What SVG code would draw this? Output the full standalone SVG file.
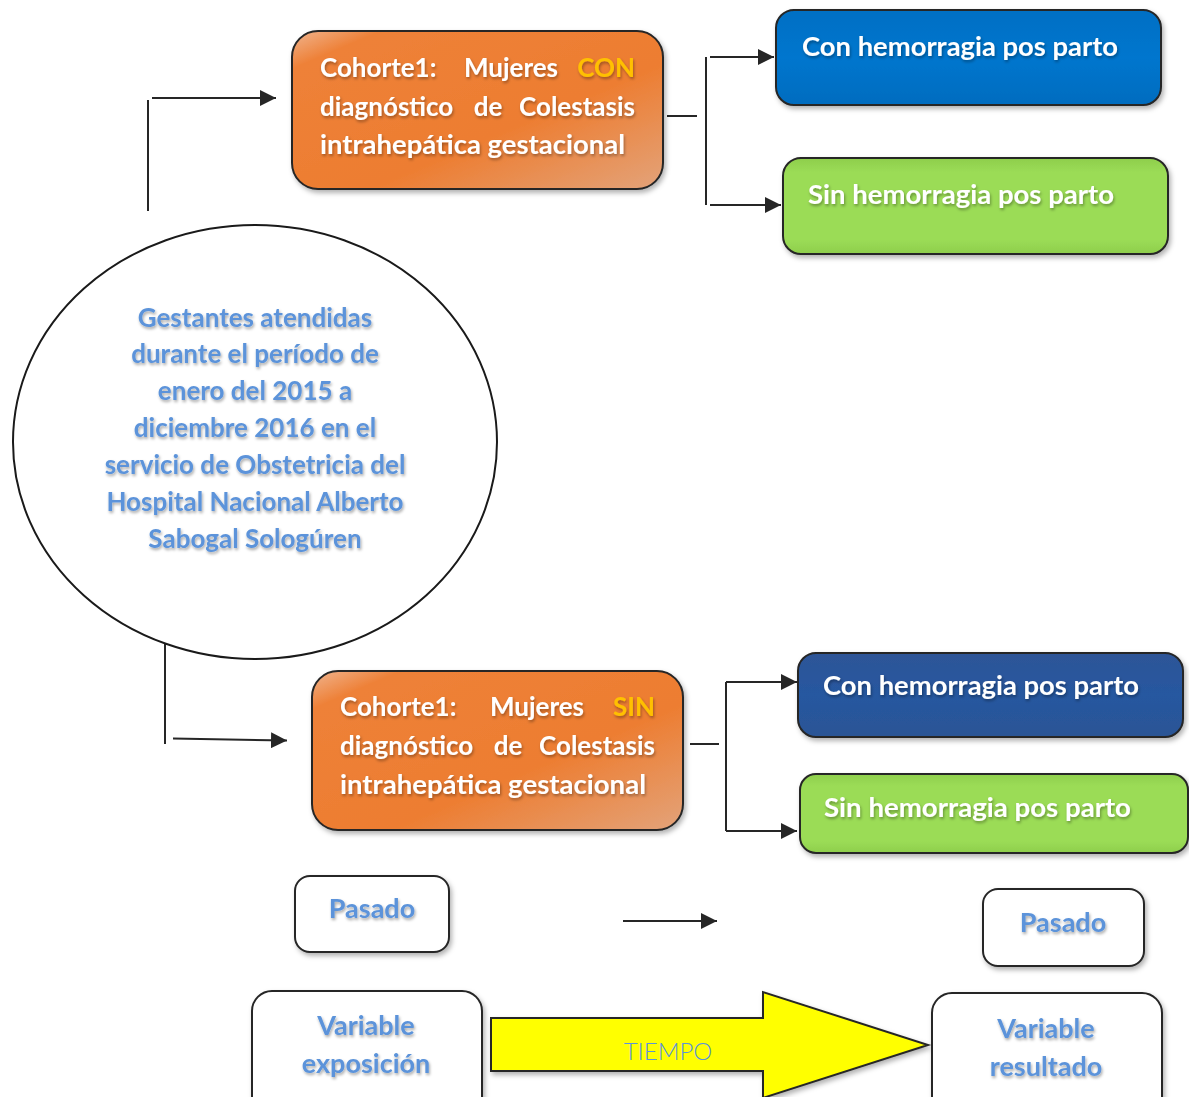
<svg xmlns="http://www.w3.org/2000/svg" width="1189" height="1097" viewBox="0 0 1189 1097">
<style>
.w{font-family:Lato,"Open Sans","Liberation Sans",sans-serif;font-weight:700;font-size:26px;fill:#ffffff}
.b{font-family:Lato,"Open Sans","Liberation Sans",sans-serif;font-weight:700;font-size:26px;fill:#5B93DA}
.bb{font-size:27px}
.y{fill:#FFC000}
.box{stroke:#262626;stroke-width:2}
.wb{fill:#ffffff;stroke:#262626;stroke-width:2}
.ln{stroke:#262626;stroke-width:2;fill:none}
.t{font-family:Lato,"Open Sans","Liberation Sans",sans-serif;font-weight:300;font-size:24px;fill:#5B93DA}
</style>
<defs>
<linearGradient id="og" x1="0" y1="0" x2="1" y2="1">
<stop offset="0" stop-color="#F0B590"/>
<stop offset="0.12" stop-color="#EE8138"/>
<stop offset="0.6" stop-color="#ED7D31"/>
<stop offset="1" stop-color="#E3A37A"/>
</linearGradient>
<linearGradient id="bg1" x1="0" y1="0" x2="0" y2="1">
<stop offset="0" stop-color="#006FC4"/>
<stop offset="0.5" stop-color="#0076CE"/>
<stop offset="1" stop-color="#006CBF"/>
</linearGradient>
<linearGradient id="bg2" x1="0" y1="0" x2="0" y2="1">
<stop offset="0" stop-color="#2E5597"/>
<stop offset="0.5" stop-color="#2758A0"/>
<stop offset="1" stop-color="#2A5495"/>
</linearGradient>
<linearGradient id="gg" x1="0" y1="0" x2="0" y2="1">
<stop offset="0" stop-color="#8ECE4C"/>
<stop offset="0.15" stop-color="#9BDC56"/>
<stop offset="0.85" stop-color="#9BDC56"/>
<stop offset="1" stop-color="#8ECE4C"/>
</linearGradient>
<filter id="sh" x="-10%" y="-10%" width="130%" height="140%">
<feDropShadow dx="2" dy="3" stdDeviation="2.5" flood-color="#000" flood-opacity="0.3"/>
</filter>
<filter id="ts" x="-10%" y="-30%" width="120%" height="170%">
<feDropShadow dx="1" dy="2" stdDeviation="1.5" flood-color="#000" flood-opacity="0.35"/>
</filter>
<marker id="ah2" viewBox="0 0 10 10" refX="10" refY="5" markerWidth="16" markerHeight="16" markerUnits="userSpaceOnUse" orient="auto">
<path d="M0,0 L10,5 L0,10 z" fill="#262626"/>
</marker>
</defs>
<rect width="1189" height="1097" fill="#ffffff"/>

<g id="connectors">
<path class="ln" d="M148,211 V100"/>
<path class="ln" d="M152,98 H276" marker-end="url(#ah2)"/>
<path class="ln" d="M667,116 H697"/>
<path class="ln" d="M706,57 V205"/>
<path class="ln" d="M710,57 H774" marker-end="url(#ah2)"/>
<path class="ln" d="M710,205 H781" marker-end="url(#ah2)"/>
<path class="ln" d="M165,632 V744"/>
<path class="ln" d="M173,738.5 L287,740.5" marker-end="url(#ah2)"/>
<path class="ln" d="M690,744 H719"/>
<path class="ln" d="M726,682 V831"/>
<path class="ln" d="M726,682 H797" marker-end="url(#ah2)"/>
<path class="ln" d="M726,831 H797" marker-end="url(#ah2)"/>
<path class="ln" d="M623,921 H717" marker-end="url(#ah2)"/>
</g>

<g id="poblacion">
<ellipse cx="255" cy="442" rx="242" ry="217" fill="#ffffff" stroke="#1a1a1a" stroke-width="2"/>
<g class="b" text-anchor="middle" filter="url(#ts)">
<text x="255" y="327">Gestantes atendidas</text>
<text x="255" y="363">durante el período de</text>
<text x="255" y="400">enero del 2015 a</text>
<text x="255" y="437">diciembre 2016 en el</text>
<text x="255" y="474">servicio de Obstetricia del</text>
<text x="255" y="511">Hospital Nacional Alberto</text>
<text x="255" y="548">Sabogal Sologúren</text>
</g>
</g>

<g id="cohorte-con">
<rect class="box" x="292" y="31" width="371" height="158" rx="26" fill="url(#og)" filter="url(#sh)"/>
<g class="w" filter="url(#ts)">
<text x="320" y="77">Cohorte1:</text>
<text x="511" y="77" text-anchor="middle">Mujeres</text>
<text x="635" y="77" text-anchor="end" class="w y">CON</text>
<text x="320" y="116">diagnóstico</text>
<text x="488" y="116" text-anchor="middle">de</text>
<text x="635" y="116" text-anchor="end">Colestasis</text>
<text x="320" y="154" textLength="305" lengthAdjust="spacingAndGlyphs">intrahepática gestacional</text>
</g>
</g>

<g id="con-hpp-1">
<rect class="box" x="776" y="10" width="385" height="95" rx="18" fill="url(#bg1)" filter="url(#sh)"/>
<text class="w" x="802" y="56" textLength="316" lengthAdjust="spacingAndGlyphs" filter="url(#ts)">Con hemorragia pos parto</text>
</g>

<g id="sin-hpp-1">
<rect class="box" x="783" y="158" width="385" height="96" rx="18" fill="url(#gg)" filter="url(#sh)"/>
<text class="w" x="808" y="204" textLength="306" lengthAdjust="spacingAndGlyphs" filter="url(#ts)">Sin hemorragia pos parto</text>
</g>

<g id="cohorte-sin">
<rect class="box" x="312" y="671" width="371" height="159" rx="26" fill="url(#og)" filter="url(#sh)"/>
<g class="w" filter="url(#ts)">
<text x="340" y="716">Cohorte1:</text>
<text x="537" y="716" text-anchor="middle">Mujeres</text>
<text x="655" y="716" text-anchor="end" class="w y">SIN</text>
<text x="340" y="755">diagnóstico</text>
<text x="508" y="755" text-anchor="middle">de</text>
<text x="655" y="755" text-anchor="end">Colestasis</text>
<text x="340" y="794" textLength="306" lengthAdjust="spacingAndGlyphs">intrahepática gestacional</text>
</g>
</g>

<g id="con-hpp-2">
<rect class="box" x="798" y="653" width="385" height="84" rx="18" fill="url(#bg2)" filter="url(#sh)"/>
<text class="w" x="823" y="695" textLength="316" lengthAdjust="spacingAndGlyphs" filter="url(#ts)">Con hemorragia pos parto</text>
</g>

<g id="sin-hpp-2">
<rect class="box" x="800" y="774" width="388" height="79" rx="16" fill="url(#gg)" filter="url(#sh)"/>
<text class="w" x="824" y="817" textLength="307" lengthAdjust="spacingAndGlyphs" filter="url(#ts)">Sin hemorragia pos parto</text>
</g>

<g id="pasado-1">
<rect class="wb" x="295" y="876" width="154" height="76" rx="15" filter="url(#sh)"/>
<text class="b bb" x="372" y="918" text-anchor="middle" filter="url(#ts)">Pasado</text>
</g>

<g id="pasado-2">
<rect class="wb" x="983" y="889" width="161" height="77" rx="15" filter="url(#sh)"/>
<text class="b bb" x="1063" y="932" text-anchor="middle" filter="url(#ts)">Pasado</text>
</g>

<g id="variable-exposicion">
<rect class="wb" x="252" y="991" width="230" height="130" rx="20" filter="url(#sh)"/>
<g class="b bb" text-anchor="middle" filter="url(#ts)">
<text x="366" y="1035">Variable</text>
<text x="366" y="1073">exposición</text>
</g>
</g>

<g id="tiempo">
<path d="M491,1018 H763 V992 L928,1045 L763,1098 V1071 H491 Z" fill="#FFFF00" stroke="#262626" stroke-width="2" stroke-linejoin="miter" filter="url(#sh)"/>
<text class="t" x="668" y="1060" text-anchor="middle">TIEMPO</text>
</g>

<g id="variable-resultado">
<rect class="wb" x="932" y="993" width="230" height="130" rx="20" filter="url(#sh)"/>
<g class="b bb" text-anchor="middle" filter="url(#ts)">
<text x="1046" y="1038">Variable</text>
<text x="1046" y="1076">resultado</text>
</g>
</g>
</svg>
